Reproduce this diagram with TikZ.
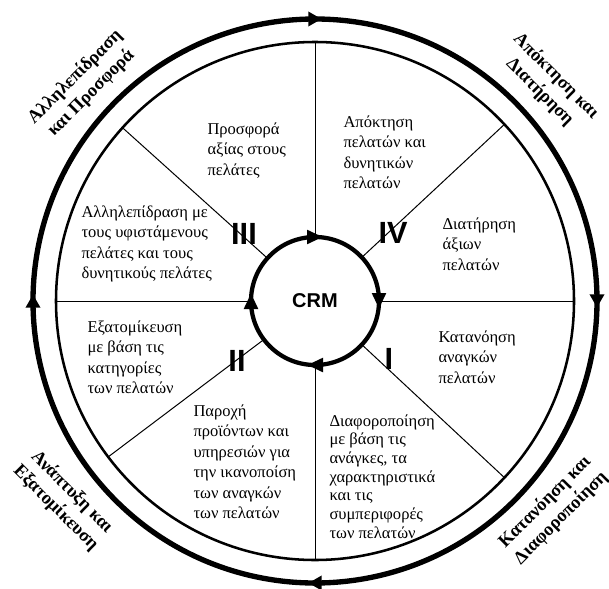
\documentclass[tikz,border=0pt]{standalone}
\usepackage{fontspec}
\setmainfont{Liberation Serif}
\newfontfamily\arialfont{Liberation Sans}
\usetikzlibrary{arrows.meta,decorations.markings}

\tikzset{every picture/.style={line width=0.75pt}}
\tikzset{
  txt/.style={anchor=north west, inner sep=0.75pt, align=left, font=\fontsize{12.4}{15.4}\selectfont},
  ringlabel/.style={inner sep=0pt, align=center, font=\fontsize{13.8}{17}\selectfont\bfseries},
  numeral/.style={inner sep=0pt, font=\arialfont\bfseries\fontsize{23}{26}\selectfont},
  arrowmarks/.style={decoration={markings, mark=between positions 0.125 and 0.875 step 0.25 with {#1}}, postaction={decorate}},
}

\begin{document}
\begin{tikzpicture}[x=0.75pt,y=0.75pt,yscale=-1,xscale=1]
            \useasboundingbox (0,0) rectangle (609,588);

            %Straight Lines
            \draw    (379,301) -- (574,301) ;
            \draw    (315,365) -- (315,560) ;
            \draw    (251,301) -- (56,301) ;
            \draw    (315,237) -- (315,42) ;
            \draw    (361.8,257.4) -- (504.4,124.4) ;
            \draw    (267.4,258.2) -- (122.5,127.7) ;
            \draw    (263.9,339.5) -- (108.2,456.9) ;
            \draw    (361.8,344.6) -- (504.4,477.6) ;
            %Shape: Circle
            \draw  [line width=1.9]  (315,301) circle (259) ;
            %Shape: Circle
            \draw  [line width=4, arrowmarks={\arrow[xshift=5pt]{Triangle[length=10pt,width=10.5pt]}}]  (315,301) ++(45:282) arc[start angle=45, end angle=405, radius=282] ;
            %Shape: Circle
            \draw  [line width=3.2, fill=white, arrowmarks={\arrow[xshift=6pt]{Triangle[length=12pt,width=10pt]}}]  (315,301) ++(45:64) arc[start angle=45, end angle=405, radius=64] ;

            % Text Node
            \draw (315,301) node [inner sep=0pt, font=\arialfont\bfseries\fontsize{15}{17}\selectfont] (crm) {CRM};
            % Text Node
            \draw (244,234) node [numeral] (nIII) {III};
            % Text Node
            \draw (393,233) node [numeral] (nIV) {IV};
            % Text Node
            \draw (389,359) node [numeral] (nI) {I};
            % Text Node
            \draw (237,361) node [numeral] (nII) {II};

            % Text Node
            \draw (206,121) node [txt] (offer) {Προσφορά\\αξίας στους\\πελάτες};
            % Text Node
            \draw (80,204) node [txt] (interact) {Αλληλεπίδραση με\\τους υφιστάμενους\\πελάτες και τους\\δυνητικούς πελάτες};
            % Text Node
            \draw (342,114) node [txt] (acquire) {Απόκτηση\\πελατών και\\δυνητικών\\πελατών};
            % Text Node
            \draw (441,216) node [txt] (retain) {Διατήρηση\\άξιων\\πελατών};
            % Text Node
            \draw (437,329) node [txt] (needs) {Κατανόηση\\αναγκών\\πελατών};
            % Text Node
            \draw (328,413) node [txt, font=\fontsize{12.4}{14}\selectfont] (differ) {Διαφοροποίηση\\με βάση τις\\ανάγκες, τα\\χαρακτηριστικά\\και τις\\συμπεριφορές\\των πελατών};
            % Text Node
            \draw (86,319) node [txt] (custom) {Εξατομίκευση\\με βάση τις\\κατηγορίες\\των πελατών};
            % Text Node
            \draw (192,403) node [txt] (supply) {Παροχή\\προϊόντων και\\υπηρεσιών για\\την ικανοποίση\\των αναγκών\\των πελατών};

            % Text Node
            \draw (83,85) node [ringlabel, rotate=45] (ringUL) {Αλληλεπίδραση\\και Προσφορά};
            % Text Node
            \draw (548,84) node [ringlabel, rotate=-45] (ringUR) {Απόκτηση και\\Διατήρηση};
            % Text Node
            \draw (64,500) node [ringlabel, rotate=-45] (ringLL) {Ανάπτυξη και\\Εξατομίκευση};
            % Text Node
            \draw (553,510) node [ringlabel, rotate=45] (ringLR) {Κατανόηση και\\Διαφοροποίηση};
        \end{tikzpicture}
\end{document}
